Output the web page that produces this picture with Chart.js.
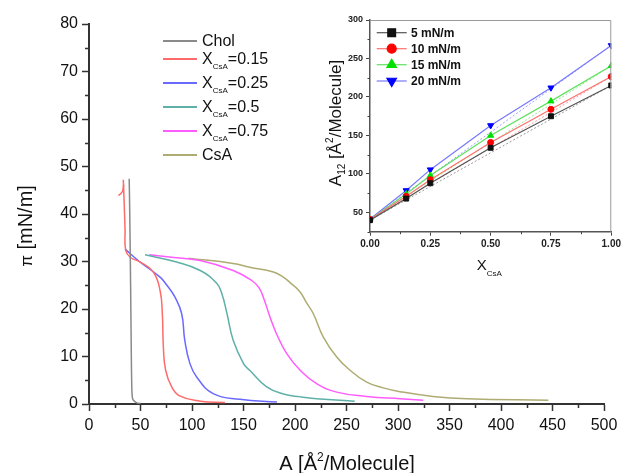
<!DOCTYPE html>
<html>
<head>
<meta charset="utf-8">
<script src="https://cdn.jsdelivr.net/npm/chart.js@4.4.1/dist/chart.umd.min.js"></script>
<style>
  html, body { margin: 0; padding: 0; background: #fff; }
  #wrap { position: relative; width: 624px; height: 473px; overflow: hidden; }
  #main { position: absolute; left: 0; top: 0; }
  #inset { position: absolute; left: 320px; top: 0; }
</style>
</head>
<body>
<div id="wrap">
  <canvas id="main" width="624" height="473"></canvas>
  <canvas id="inset" width="304" height="285"></canvas>
</div>
<script>
const FONT = "'Liberation Sans', Arial, sans-serif";

// Isotherms: area per molecule (A) vs surface pressure (pi), pi rising along each list
const cholA  = [50, 46, 43, 42, 41.5, 41, 40.4, 39.8, 39.3, 39.0];
const cholPi = [0.1, 0.3, 0.8, 1.6, 4, 12, 25, 36, 44, 47.4];

const x15A  = [132, 108, 88, 80.3, 74.4, 72.2, 71.2, 69, 62.4, 49.5, 40, 35.6, 35, 34.2, 33.3];
const x15Pi = [0.3, 0.6, 1.7, 3.6, 7.1, 12, 19, 23.9, 27.8, 29.9, 30.9, 32.4, 36.6, 42, 47.2];
// collapse hook at the top of the 0.15 isotherm
const x15HookA  = [33.7, 32.6, 30.5, 28.5];
const x15HookPi = [46.2, 44.8, 44.2, 43.9];

const x25A  = [182.5, 146.6, 120.6, 104.5, 98, 93, 90, 83.5, 76, 69, 49.5, 35];
const x25Pi = [0.4, 1, 2.2, 5.7, 8.5, 13.4, 19, 22.5, 24.9, 26.7, 29.9, 32.6];

const x50A  = [258, 221, 205, 188.7, 172.5, 156, 150, 140, 134, 129, 124, 108, 85, 54.4];
const x50Pi = [0.6, 1.1, 1.5, 2.1, 3.6, 7.1, 8.5, 13.4, 19, 23.2, 25.4, 28.1, 29.9, 31.4];

const x75A  = [324.5, 302, 269.6, 240.5, 221, 205, 192, 182, 175.7, 170, 165, 158, 140, 108, 80, 58.5];
const x75Pi = [0.8, 1.1, 1.6, 2.5, 4.3, 7.1, 10.6, 14.8, 18.3, 22, 24.5, 26, 28.1, 30.2, 30.9, 31.4];

const csaA  = [446, 367, 334, 302, 285.7, 269.6, 253.4, 240.5, 227.5, 217.8, 211, 204.9, 195, 188.7, 179, 156, 140, 96.4];
const csaPi = [0.8, 1.1, 1.6, 2.6, 3.4, 4.6, 7.1, 9.9, 14.1, 19, 21.4, 23.6, 25.6, 26.7, 27.8, 28.8, 29.6, 30.7];

const isoNames  = ['Chol', 'X_CsA=0.15', 'X_CsA=0.25', 'X_CsA=0.5', 'X_CsA=0.75', 'CsA'];
const isoColors = ['#8a8a8a', '#ff6a6a', '#6a6aff', '#5fb0a8', '#ff5cff', '#aeac72'];
const areaTicks = [0, 50, 100, 150, 200, 250, 300, 350, 400, 450, 500];
const piTicks   = [0, 10, 20, 30, 40, 50, 60, 70, 80];

// Inset: mean molecular area vs mole fraction at fixed pressures
const xCsA    = [0, 0.15, 0.25, 0.5, 0.75, 1.0];
const a12at5  = [40, 68, 88, 134, 175, 215];
const a12at10 = [41, 71, 92.6, 141, 184, 226.5];
const a12at15 = [41, 74, 98, 150, 194.6, 240.5];
const a12at20 = [41.5, 78.6, 105.6, 163, 212, 267];
const pressNames = ['5 mN/m', '10 mN/m', '15 mN/m', '20 mN/m'];
const fracTicks  = [0, 0.25, 0.5, 0.75, 1.0];
const a12Ticks   = [50, 100, 150, 200, 250, 300];

const pts = (xs, ys) => xs.map((v, i) => ({ x: v, y: ys[i] }));

// draws a run of text pieces (sub/superscripts via size + dy)
function richWidth(ctx, parts) {
  let w = 0;
  for (const p of parts) {
    ctx.font = `${p.bold ? 'bold ' : ''}${p.size}px ${FONT}`;
    w += ctx.measureText(p.t).width;
  }
  return w;
}
function drawRich(ctx, parts, x, y) {
  ctx.textAlign = 'left';
  for (const p of parts) {
    ctx.font = `${p.bold ? 'bold ' : ''}${p.size}px ${FONT}`;
    ctx.fillText(p.t, x, y + (p.dy || 0));
    x += ctx.measureText(p.t).width;
  }
}

// small ticks between labelled ones, pointing out of the plot
const minorTicks = {
  id: 'minorTicks',
  afterDraw(chart, args, o) {
    const { ctx, scales: { x, y } } = chart;
    ctx.save();
    ctx.strokeStyle = o.color;
    ctx.lineWidth = o.width;
    ctx.beginPath();
    for (let v = x.min + o.xStep; v < x.max; v += o.xStep * 2) {
      const px = Math.round(x.getPixelForValue(v)) + 0.5;
      ctx.moveTo(px, x.top);
      ctx.lineTo(px, x.top + o.len);
    }
    for (let v = o.yStart; v < y.max; v += o.yStep * 2) {
      const py = Math.round(y.getPixelForValue(v)) + 0.5;
      ctx.moveTo(y.right, py);
      ctx.lineTo(y.right - o.len, py);
    }
    ctx.stroke();
    ctx.restore();
  }
};

// ---------- main isotherm chart ----------
const mainTitles = {
  id: 'mainTitles',
  afterDraw(chart) {
    const ctx = chart.ctx;
    ctx.save();
    ctx.fillStyle = '#111';
    ctx.textBaseline = 'alphabetic';
    const xt = [{ t: 'A [Å', size: 20 }, { t: '2', size: 12, dy: -9 }, { t: '/Molecule]', size: 20 }];
    drawRich(ctx, xt, 347 - richWidth(ctx, xt) / 2, 470);
    ctx.translate(25, 226);
    ctx.rotate(-Math.PI / 2);
    const yt = [{ t: 'π', size: 17 }, { t: ' [mN/m]', size: 20 }];
    drawRich(ctx, yt, -richWidth(ctx, yt) / 2, 7);
    ctx.restore();
  }
};

const mainLegend = {
  id: 'mainLegend',
  afterDraw(chart) {
    const ctx = chart.ctx;
    const rows = [41, 59, 83, 107, 131, 155];
    ctx.save();
    ctx.textBaseline = 'middle';
    isoNames.forEach((name, i) => {
      const y = rows[i];
      ctx.strokeStyle = isoColors[i];
      ctx.lineWidth = 2;
      ctx.beginPath();
      ctx.moveTo(163, y);
      ctx.lineTo(197, y);
      ctx.stroke();
      ctx.fillStyle = '#111';
      let parts;
      const m = name.match(/^X_(CsA)(.*)$/);
      if (m) {
        parts = [{ t: 'X', size: 16 }, { t: m[1], size: 8, dy: 7 }, { t: m[2], size: 16 }];
      } else {
        parts = [{ t: name, size: 16 }];
      }
      drawRich(ctx, parts, 202, y + 1);
    });
    ctx.restore();
  }
};

const isoSets = [[cholA, cholPi], [x15A, x15Pi], [x25A, x25Pi], [x50A, x50Pi], [x75A, x75Pi], [csaA, csaPi]];
const isoData = isoSets.map(([a, p], i) => ({
  label: isoNames[i],
  data: pts(a, p),
  showLine: true,
  borderColor: isoColors[i],
  borderWidth: 1.5,
  pointRadius: 0,
  tension: 0.45
}));
isoData.push({
  label: 'X_CsA=0.15 hook',
  data: pts(x15HookA, x15HookPi),
  showLine: true,
  borderColor: isoColors[1],
  borderWidth: 1.5,
  pointRadius: 0,
  tension: 0.3
});

new Chart(document.getElementById('main'), {
  type: 'scatter',
  data: { datasets: isoData },
  options: {
    responsive: false,
    animation: false,
    devicePixelRatio: 1,
    layout: { autoPadding: false, padding: { left: 0, top: 24, right: 20, bottom: 0 } },
    plugins: {
      legend: { display: false },
      tooltip: { enabled: false },
      minorTicks: { xStep: 25, yStart: 5, yStep: 5, len: 4, color: '#333', width: 1.5 }
    },
    scales: {
      x: {
        type: 'linear', min: 0, max: 500,
        afterFit: s => { s.height = 69; },
        afterBuildTicks: s => { s.ticks = areaTicks.map(v => ({ value: v })); },
        grid: { display: true, drawOnChartArea: false, drawTicks: true, tickLength: 7, tickWidth: 1.5, tickColor: '#333', color: '#333' },
        border: { display: true, color: '#333', width: 2 },
        ticks: { color: '#111', font: { family: FONT, size: 16 }, padding: 5, maxRotation: 0, autoSkip: false }
      },
      y: {
        type: 'linear', min: 0, max: 80,
        afterFit: s => { s.width = 89; },
        afterBuildTicks: s => { s.ticks = piTicks.map(v => ({ value: v })); },
        grid: { display: true, drawOnChartArea: false, drawTicks: true, tickLength: 7, tickWidth: 1.5, tickColor: '#333', color: '#333' },
        border: { display: true, color: '#333', width: 2 },
        ticks: { color: '#111', font: { family: FONT, size: 16 }, padding: 4, autoSkip: false }
      }
    }
  },
  plugins: [minorTicks, mainTitles, mainLegend]
});

// ---------- inset: A12 vs X_CsA ----------
const pressSets = [a12at5, a12at10, a12at15, a12at20];
const markColors = ['#111111', '#ff0000', '#00e000', '#0000ff'];
const lineColors = ['#555555', '#ff7070', '#60e060', '#7878ff'];
const idealColors = ['#9a9a9a', '#ffa0a0', '#90ee90', '#a0a0ff'];
const markStyles = [
  { pointStyle: 'rect', rotation: 0, r: 3.5, lr: 5.5 },
  { pointStyle: 'circle', rotation: 0, r: 3, lr: 4.5 },
  { pointStyle: 'triangle', rotation: 0, r: 3.5, lr: 5.5 },
  { pointStyle: 'triangle', rotation: 180, r: 3.5, lr: 5.5 }
];

const insetDecor = {
  id: 'insetDecor',
  afterDraw(chart) {
    const { ctx, chartArea: ca } = chart;
    ctx.save();
    // frame on top and right
    ctx.strokeStyle = '#9a9a9a';
    ctx.lineWidth = 1;
    ctx.beginPath();
    ctx.moveTo(ca.left, ca.top + 0.5);
    ctx.lineTo(ca.right - 0.5, ca.top + 0.5);
    ctx.lineTo(ca.right - 0.5, ca.bottom);
    ctx.stroke();

    // legend
    const rows = [32.7, 48.7, 64.7, 81];
    pressNames.forEach((name, i) => {
      const y = rows[i];
      ctx.strokeStyle = lineColors[i];
      ctx.lineWidth = 1.2;
      ctx.beginPath();
      ctx.moveTo(56.7, y);
      ctx.lineTo(86.7, y);
      ctx.stroke();
      ctx.fillStyle = markColors[i];
      ctx.strokeStyle = markColors[i];
      const ms = markStyles[i];
      Chart.helpers.drawPoint(ctx, { pointStyle: ms.pointStyle, rotation: ms.rotation, radius: ms.lr, borderWidth: 1 }, 71.7, y);
      ctx.fillStyle = '#111';
      ctx.textBaseline = 'middle';
      drawRich(ctx, [{ t: name, size: 12, bold: true }], 91, y + 1);
    });

    // axis titles
    ctx.fillStyle = '#111';
    ctx.textBaseline = 'alphabetic';
    drawRich(ctx, [{ t: 'X', size: 15 }, { t: 'CsA', size: 8, dy: 6 }], 156.7, 270);
    ctx.translate(14.5, 123);
    ctx.rotate(-Math.PI / 2);
    const yt = [{ t: 'A', size: 17 }, { t: '12', size: 10, dy: 4 }, { t: ' [Å', size: 17 },
                { t: '2', size: 10, dy: -8 }, { t: '/Molecule]', size: 17 }];
    drawRich(ctx, yt, -richWidth(ctx, yt) / 2, 6);
    ctx.restore();
  }
};

const insetData = [];
pressSets.forEach((vals, i) => {
  insetData.push({
    label: pressNames[i],
    data: pts(xCsA, vals),
    showLine: true,
    borderColor: lineColors[i],
    borderWidth: 1.2,
    pointStyle: markStyles[i].pointStyle,
    rotation: markStyles[i].rotation,
    pointRadius: markStyles[i].r,
    pointBackgroundColor: markColors[i],
    pointBorderColor: markColors[i],
    pointBorderWidth: 1,
    clip: 0,
    order: 1
  });
});
// ideal-mixing lines joining the pure-component areas
pressSets.forEach((vals, i) => {
  insetData.push({
    label: pressNames[i] + ' ideal',
    data: [{ x: xCsA[0], y: vals[0] }, { x: xCsA[xCsA.length - 1], y: vals[vals.length - 1] }],
    showLine: true,
    borderColor: idealColors[i],
    borderWidth: 1,
    borderDash: [2, 2],
    pointRadius: 0,
    clip: 0,
    order: 2
  });
});

new Chart(document.getElementById('inset'), {
  type: 'scatter',
  data: { datasets: insetData },
  options: {
    responsive: false,
    animation: false,
    devicePixelRatio: 1,
    layout: { autoPadding: false, padding: { left: 0, top: 20, right: 10.7, bottom: 0 } },
    plugins: {
      legend: { display: false },
      tooltip: { enabled: false },
      minorTicks: { xStep: 0.125, yStart: 25, yStep: 25, len: 2.5, color: '#444', width: 1 }
    },
    scales: {
      x: {
        type: 'linear', min: 0, max: 1,
        afterFit: s => { s.height = 285 - 231.7; },
        afterBuildTicks: s => { s.ticks = fracTicks.map(v => ({ value: v })); },
        grid: { display: true, drawOnChartArea: false, drawTicks: true, tickLength: 4, tickWidth: 1, tickColor: '#444', color: '#444' },
        border: { display: true, color: '#555', width: 1.5 },
        ticks: { color: '#222', font: { family: FONT, size: 10, weight: 'bold' }, padding: 3, maxRotation: 0, autoSkip: false,
                 callback: v => v.toFixed(2) }
      },
      y: {
        type: 'linear', min: 25, max: 300,
        afterFit: s => { s.width = 50; },
        afterBuildTicks: s => { s.ticks = a12Ticks.map(v => ({ value: v })); },
        grid: { display: true, drawOnChartArea: false, drawTicks: true, tickLength: 4, tickWidth: 1, tickColor: '#444', color: '#444' },
        border: { display: true, color: '#555', width: 1.5 },
        ticks: { color: '#222', font: { family: FONT, size: 9, weight: 'bold' }, padding: 3, autoSkip: false }
      }
    }
  },
  plugins: [minorTicks, insetDecor]
});
</script>
</body>
</html>
